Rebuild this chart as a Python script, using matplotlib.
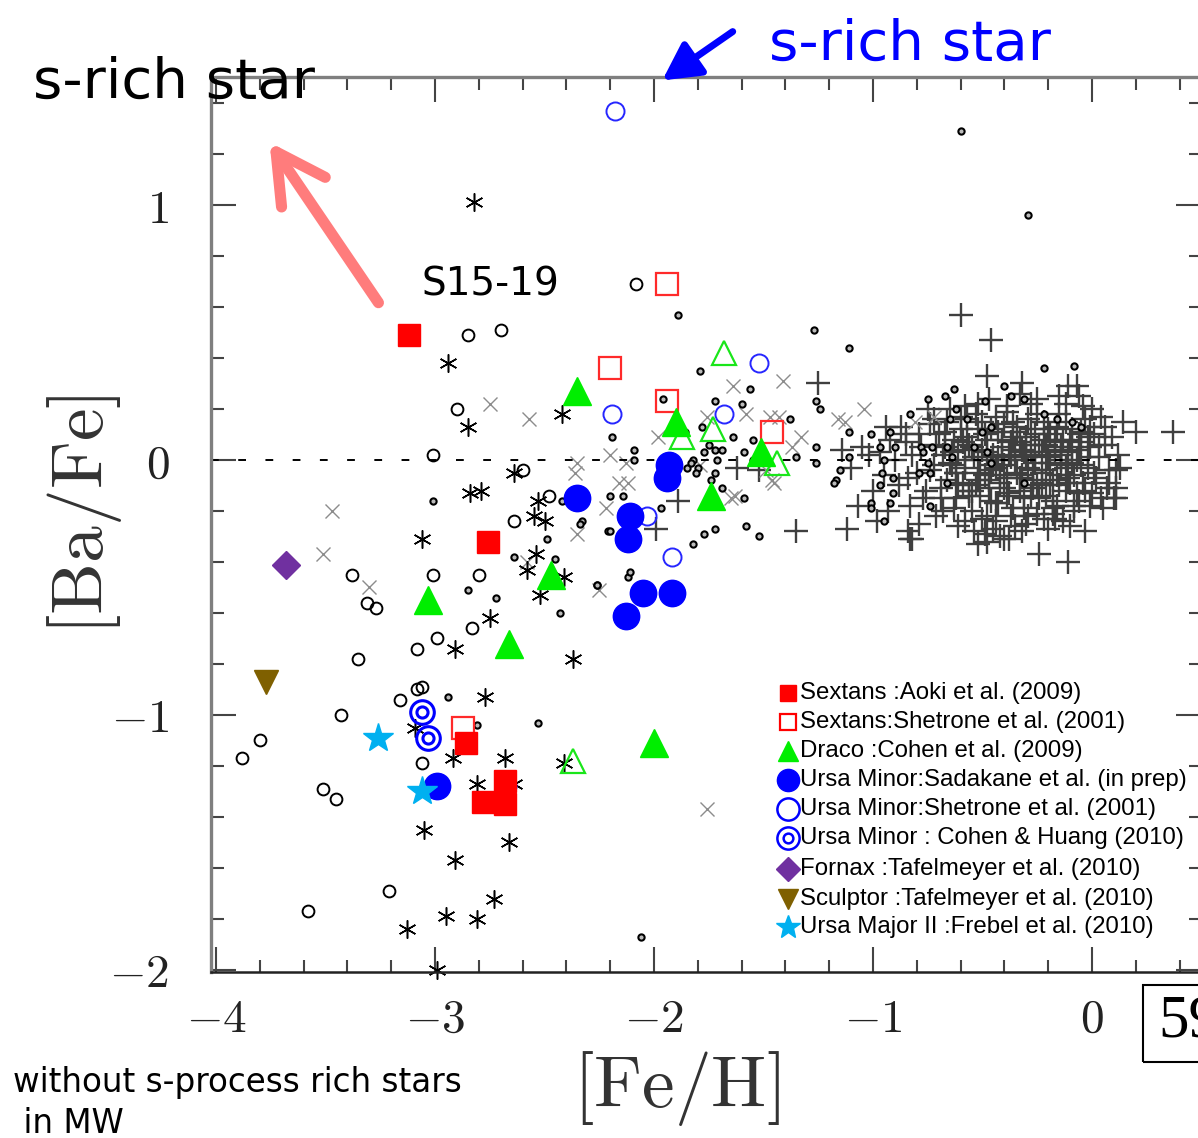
import matplotlib
matplotlib.use("Agg")
import matplotlib.pyplot as plt
from matplotlib.lines import Line2D
from matplotlib.patches import FancyArrowPatch, Rectangle
from matplotlib.ticker import MultipleLocator, FixedLocator, FixedFormatter

plt.rcParams['mathtext.fontset'] = 'cm'

# -------------------------- dSph stars -------------------------- #
sex_aoki_feh = [-3.12, -2.76, -2.86, -2.78, -2.68, -2.68]
sex_aoki_bafe = [0.49, -0.32, -1.11, -1.34, -1.26, -1.35]

sex_shet_feh = [-1.94, -2.20, -1.94, -1.46, -2.87]
sex_shet_bafe = [0.69, 0.36, 0.23, 0.11, -1.05]

dra_feh = [-2.35, -1.90, -1.74, -1.51, -2.47, -3.03, -2.66, -2.00]
dra_bafe = [0.27, 0.15, -0.14, 0.03, -0.45, -0.55, -0.72, -1.11]

dra_open_feh = [-1.68, -1.87, -1.73, -1.44, -2.37]
dra_open_bafe = [0.42, 0.09, 0.12, -0.01, -1.18]

umi_sad_feh = [-2.35, -2.11, -2.12, -1.93, -1.94, -2.05, -1.92, -2.13, -2.99]
umi_sad_bafe = [-0.15, -0.22, -0.31, -0.02, -0.07, -0.52, -0.52, -0.61, -1.28]

umi_shet_feh = [-2.18, -1.52, -2.19, -1.68, -2.03, -1.92, -2.67]
umi_shet_bafe = [1.37, 0.38, 0.18, 0.18, -0.22, -0.38, -1.28]

umi_cohen_feh = [-3.06, -3.03]
umi_cohen_bafe = [-0.99, -1.09]

fnx_feh = [-3.68]
fnx_bafe = [-0.41]

scl_feh = [-3.77]
scl_bafe = [-0.87]

uma_feh = [-3.26, -3.06]
uma_bafe = [-1.09, -1.30]

legend_labels = [
    "Sextans :Aoki et al. (2009)",
    "Sextans:Shetrone et al. (2001)",
    "Draco :Cohen et al. (2009)",
    "Ursa Minor:Sadakane et al. (in prep)",
    "Ursa Minor:Shetrone et al. (2001)",
    "Ursa Minor : Cohen & Huang (2010)",
    "Fornax :Tafelmeyer et al. (2010)",
    "Sculptor :Tafelmeyer et al. (2010)",
    "Ursa Major II :Frebel et al. (2010)",
]

# -------------------------- Milky Way halo / disk -------------------------- #
mw_circ_feh = [-2.85, -2.70, -2.08, -2.90, -3.01, -2.60, -2.48, -2.64, -3.38, -3.01,
               -2.80, -3.31, -3.27, -2.83, -2.99, -3.08, -3.35, -3.08, -3.06, -3.16,
               -3.43, -3.80, -3.88, -3.06, -3.51, -3.45, -3.21, -3.58]
mw_circ_bafe = [0.49, 0.51, 0.69, 0.20, 0.02, -0.04, -0.14, -0.24, -0.45, -0.45,
                -0.45, -0.56, -0.58, -0.66, -0.70, -0.74, -0.78, -0.90, -0.89, -0.94,
                -1.00, -1.10, -1.17, -1.19, -1.29, -1.33, -1.69, -1.77]

mw_dot_feh = [-3.01, -2.42, -2.64, -2.85, -2.72, -2.49, -2.45, -2.43, -2.33, -2.26,
              -2.94, -2.81, -2.53, -2.20, -2.14, -2.21, -2.26, -2.12, -2.34, -2.09,
              -2.09, -2.19, -1.56, -1.60, -1.72, -1.96, -1.86, -1.78, -1.75, -1.72,
              -1.64, -1.69, -1.77, -1.55, -1.82, -1.85, -1.80, -1.81, -1.71, -1.72,
              -1.74, -1.69, -1.59, -1.59, -1.55, -1.51, -1.38, -1.97, -2.20, -1.72,
              -1.77, -1.82, -1.58, -1.52, -2.11, -1.89, -1.27, -1.11, -1.79, -1.26,
              -1.24, -1.11, -0.92, -0.75, -0.67, -0.63, -0.40, -0.37, -0.22, -0.08,
              -0.49, -0.62, -0.57, -0.65, -0.83, -0.46, -0.50, -0.31, -0.22, -0.16,
              -0.09, -0.05, -1.26, -1.26, -1.15, -1.17, -1.11, -1.01, -0.97, -0.95,
              -0.90, -0.78, -0.73, -0.77, -0.75, -0.66, -0.64, -0.54, -0.48, -0.46,
              -0.96, -0.91, -0.79, -0.97, -0.91, -0.74, -0.66, -0.31, -1.01, -0.92,
              -0.74, -1.01, -0.95, -1.18, -1.35, -1.83, -0.60, -0.29, -2.06]
mw_dot_bafe = [-0.16, -0.16, -0.38, -0.51, -0.54, -0.31, -0.39, -0.60, -0.24, -0.49,
               -0.93, -1.04, -1.03, -0.14, -0.14, -0.28, -0.49, -0.46, -0.25, 0.04,
               0.00, 0.09, 0.28, 0.22, 0.23, 0.24, 0.11, 0.13, 0.06, 0.04,
               0.09, 0.04, 0.03, 0.08, 0.00, -0.03, -0.03, -0.05, 0.00, -0.05,
               -0.08, -0.11, -0.15, 0.03, 0.00, 0.00, 0.16, -0.19, -0.28, -0.27,
               -0.29, -0.33, -0.26, -0.30, -0.44, 0.57, 0.51, 0.44, 0.35, 0.23,
               0.20, 0.11, 0.11, 0.24, 0.25, 0.28, 0.29, 0.25, 0.36, 0.37,
               0.23, 0.20, 0.16, 0.16, 0.18, 0.13, 0.11, 0.24, 0.18, 0.16,
               0.15, 0.13, 0.05, -0.01, -0.04, -0.08, 0.01, 0.10, 0.05, 0.00,
               0.05, 0.05, 0.05, 0.03, -0.01, 0.05, 0.01, 0.05, 0.03, -0.01,
               -0.05, -0.07, -0.05, -0.10, -0.13, -0.05, -0.09, -0.09, -0.17, -0.17,
               -0.18, -0.19, -0.24, -0.09, 0.01, -0.01, 1.29, 0.96, -1.87]

mw_ast_feh = [-2.82, -2.94, -2.85, -2.42, -2.64, -2.84, -2.79, -2.53, -2.55, -2.50,
              -3.06, -2.54, -2.58, -2.41, -2.52, -2.75, -2.91, -2.37, -2.77, -3.09,
              -2.92, -2.68, -2.41, -2.81, -2.64, -3.05, -2.66, -2.91, -2.73, -2.95,
              -2.81, -3.13, -2.99]
mw_ast_bafe = [1.01, 0.38, 0.13, 0.18, -0.05, -0.13, -0.12, -0.16, -0.22, -0.24,
               -0.31, -0.37, -0.43, -0.46, -0.53, -0.62, -0.74, -0.78, -0.93, -1.05,
               -1.17, -1.17, -1.19, -1.27, -1.27, -1.45, -1.50, -1.57, -1.72, -1.79,
               -1.80, -1.84, -2.00]

mw_x_feh = [-2.75, -2.57, -3.47, -3.51, -3.30, -2.36, -2.35, -2.58, -2.20, -2.13,
            -2.16, -2.12, -2.22, -2.25, -1.64, -1.41, -1.58, -1.76, -1.98, -1.79,
            -1.65, -1.63, -1.47, -1.43, -1.46, -1.45, -1.49, -1.04, -1.16, -1.13,
            -0.72, -0.81, -1.33, -1.37, -1.76, -2.35]
mw_x_bafe = [0.22, 0.16, -0.20, -0.37, -0.50, -0.05, -0.29, -0.40, 0.02, -0.01,
             -0.09, -0.09, -0.19, -0.51, 0.29, 0.31, 0.18, 0.17, 0.09, -0.02,
             -0.15, -0.14, 0.17, 0.17, -0.08, -0.09, -0.04, 0.20, 0.16, 0.15,
             0.17, 0.15, 0.09, 0.05, -1.37, -0.01]

mw_plus_feh = [-0.60, -0.46, -0.48, -0.32, -0.11, -0.07, 0.14, 0.20, 0.37, -1.25,
               -1.89, -1.35, -1.12, -0.11, -0.83, -0.38, -0.52, 0.11, 0.11, 0.11,
               -1.62, -1.99, -1.52, -0.94, -0.85, -1.14, -1.02, -1.07, -0.98, -0.84,
               -0.82, -0.48, -0.40, -0.49, -0.29, -0.18, -0.01, 0.13, -0.03, -0.24,
               -0.78, -0.72, -0.70, -0.66, -0.64, -0.62, -0.60, -0.58, -0.56, -0.55,
               -0.53, -0.52, -0.50, -0.49, -0.48, -0.46, -0.45, -0.44, -0.43, -0.42,
               -0.41, -0.40, -0.39, -0.38, -0.37, -0.36, -0.35, -0.34, -0.33, -0.32,
               -0.31, -0.30, -0.29, -0.28, -0.27, -0.26, -0.25, -0.24, -0.23, -0.22,
               -0.21, -0.20, -0.19, -0.18, -0.17, -0.16, -0.15, -0.14, -0.13, -0.12,
               -0.11, -0.10, -0.09, -0.08, -0.07, -0.06, -0.05, -0.04, -0.03, -0.02,
               -0.01, 0.00, 0.01, 0.02, 0.03, 0.05, 0.06, 0.08,
               -0.90, -0.88, -0.85, -0.83, -0.80, -0.76, -0.74, -0.71, -0.68, -0.65,
               -0.61, -0.57, -0.54, -0.47, -0.42, -0.33, -0.30, -0.20, -0.12, -0.06,
               0.04, 0.09, -0.95, -0.92, -1.00, -0.97, -0.87, -0.79, -0.69, -0.63,
               -0.51, -0.39, -0.28, -0.17, -0.09, -0.02, 0.07, -0.44, -0.25, -0.58,
               -0.75, -1.05, -1.10, -0.93, -0.35, -0.15, 0.00, 0.10, 0.12, -0.48,
               -0.66, -0.56, -0.37, -0.27, -0.14, -0.45, -0.31, -0.19, -0.62, -0.05,
               -0.74, -0.71, -0.69, -0.67, -0.65, -0.63, -0.61, -0.59, -0.57, -0.56,
               -0.54, -0.53, -0.51, -0.50, -0.48, -0.47, -0.46, -0.44, -0.43, -0.41,
               -0.40, -0.38, -0.37, -0.36, -0.34, -0.33, -0.31, -0.30, -0.29, -0.27,
               -0.26, -0.24, -0.23, -0.21, -0.20, -0.18, -0.17, -0.15, -0.14, -0.12,
               -0.11, -0.09, -0.08, -0.06, -0.05, -0.03, -0.01, 0.01, 0.03, 0.04,
               -0.72, -0.68, -0.60, -0.58, -0.52, -0.45, -0.39, -0.32, -0.25, -0.22,
               -0.13, -0.04, 0.06, 0.08, -0.82, -0.79, -0.77, -0.84, -0.62, -0.55,
               -0.49, -0.42, -0.35, -0.28, -0.19, -0.10, -0.07, -0.16, -0.33, -0.46,
               -0.58, -0.67, -0.41, -0.23, -0.30, -0.52, -0.12, -0.02,
               -0.64, -0.59, -0.55, -0.50, -0.47, -0.43, -0.39, -0.36, -0.32, -0.28,
               -0.25, -0.21, -0.18, -0.14, -0.10, -0.06, -0.52, -0.44, -0.34, -0.26,
               -0.16, -0.61, -0.40, -0.22, -0.08]
mw_plus_bafe = [0.57, 0.47, 0.33, 0.30, 0.29, 0.29, 0.15, 0.11, 0.11, 0.30,
                -0.16, -0.28, -0.27, -0.40, -0.31, -0.31, -0.33, -0.04, -0.11, -0.15,
                -0.03, -0.27, -0.04, 0.13, 0.10, 0.04, 0.02, -0.18, -0.24, -0.28,
                -0.31, -0.32, -0.31, -0.29, -0.22, -0.21, -0.18, -0.03, -0.28, -0.37,
                0.05, -0.02, 0.10, -0.08, 0.03, -0.15, 0.12, -0.03, 0.06, -0.20,
                -0.10, 0.00, 0.15, -0.06, 0.08, -0.16, 0.02, -0.24, 0.11, -0.09,
                0.05, -0.02, 0.19, -0.13, 0.07, -0.19, 0.00, 0.13, -0.07, 0.04,
                -0.15, 0.09, -0.03, 0.22, -0.11, 0.02, -0.21, 0.06, -0.05, 0.15,
                -0.14, 0.01, 0.10, -0.08, 0.04, -0.18, 0.18, -0.02, 0.08, -0.12,
                0.03, -0.26, 0.12, -0.06, 0.00, -0.16, 0.07, -0.09, 0.16, -0.03,
                0.05, -0.13, 0.10, -0.07, 0.01, -0.19, 0.06, -0.04,
                0.00, -0.10, 0.07, -0.18, -0.05, -0.12, 0.14, -0.22, 0.02, 0.20,
                -0.26, 0.16, -0.28, 0.24, -0.30, 0.26, -0.25, -0.27, 0.22, 0.25,
                0.17, 0.09, -0.06, 0.08, -0.12, 0.03, 0.13, -0.25, -0.15, 0.08,
                -0.14, -0.07, 0.12, -0.23, -0.01, 0.09, -0.11, 0.17, 0.18, 0.21,
                0.20, 0.05, -0.03, -0.20, -0.26, 0.25, 0.20, -0.15, 0.02, -0.22,
                0.15, -0.12, 0.01, -0.04, 0.05, -0.02, 0.03, -0.10, -0.05, 0.11,
                -0.04, 0.06, -0.11, 0.11, -0.01, -0.19, 0.04, -0.09, 0.09, -0.14,
                0.01, 0.18, -0.05, -0.23, 0.03, -0.11, 0.12, -0.03, -0.17, 0.08,
                -0.11, 0.02, -0.22, 0.15, -0.05, 0.07, -0.19, 0.01, 0.16, -0.08,
                0.10, -0.15, 0.03, -0.04, 0.12, -0.19, 0.07, -0.10, 0.02, 0.15,
                -0.07, 0.05, -0.20, 0.10, -0.02, -0.12, 0.13, -0.05, 0.06, -0.15,
                0.16, -0.20, 0.17, -0.24, 0.22, -0.27, 0.21, -0.28, 0.24, -0.23,
                -0.24, 0.21, 0.13, -0.09, 0.02, 0.10, -0.15, -0.07, -0.05, 0.05,
                0.10, -0.06, 0.04, -0.14, -0.01, 0.08, -0.13, 0.13, -0.12, -0.04,
                0.00, 0.05, 0.00, -0.09, 0.06, -0.08, -0.03, 0.01,
                -0.02, 0.07, -0.12, 0.04, -0.08, 0.01, -0.14, 0.09, -0.06, 0.03,
                -0.10, 0.06, -0.16, 0.00, -0.09, 0.04, 0.12, -0.17, 0.11, -0.01,
                -0.06, -0.10, 0.14, 0.08, -0.18]

xtick_vals = [-4, -3, -2, -1, 0]
xtick_text = ['$-4$', '$-3$', '$-2$', '$-1$', '$0$']
ytick_vals = [-2, -1, 0, 1]
ytick_text = ['$-2$', '$-1$', '$0$', '$1$']

W, H = 1198, 1138


def fx(px):
    return px / W


def fy(py):
    return 1 - py / H


fig = plt.figure(figsize=(W / 100, H / 100), dpi=100)
ax = fig.add_axes([fx(211), fy(972), 990 / W, 895 / H])
ax.set_xlim(-4.023, 0.498)
ax.set_ylim(-2.008, 1.502)

# background MW samples
ax.plot(mw_plus_feh, mw_plus_bafe, ls='none', marker='+', ms=17, mew=1.7, color='#3f3f3f')
ax.plot(mw_x_feh, mw_x_bafe, ls='none', marker='x', ms=10, mew=1.0, color='#8c8c8c')
ax.plot(mw_circ_feh, mw_circ_bafe, ls='none', marker='o', ms=8.5, mew=1.4,
        mfc='none', mec='black')
ax.plot(mw_dot_feh, mw_dot_bafe, ls='none', marker='o', ms=4.5, mew=1.5,
        mfc='#bbbbbb', mec='black')
ax.plot(mw_ast_feh, mw_ast_bafe, ls='none', marker=(6, 2, 0), ms=13, mew=1.1,
        color='black', clip_on=False)

ax.axhline(0, color='black', lw=1.4, ls=(0, (4, 10)))

# dSph samples
ax.plot(sex_shet_feh, sex_shet_bafe, ls='none', marker='s', ms=16, mew=1.6,
        mfc='none', mec='#ff2a2a')
ax.plot(dra_open_feh, dra_open_bafe, ls='none', marker='^', ms=17, mew=1.6,
        mfc='none', mec='#19e619')
ax.plot(umi_shet_feh, umi_shet_bafe, ls='none', marker='o', ms=13, mew=1.4,
        mfc='none', mec='#2626ff')
ax.plot(dra_feh, dra_bafe, ls='none', marker='^', ms=20, color='#00ee00')
ax.plot(umi_sad_feh, umi_sad_bafe, ls='none', marker='o', ms=19, color='#0000ff')
ax.plot(sex_aoki_feh, sex_aoki_bafe, ls='none', marker='s', ms=15.5, color='#ff0000')
ax.plot(umi_cohen_feh, umi_cohen_bafe, ls='none', marker='o', ms=17, mew=2.2,
        mfc='none', mec='#0000ff')
ax.plot(umi_cohen_feh, umi_cohen_bafe, ls='none', marker='o', ms=8, mew=2.2,
        mfc='none', mec='#0000ff')
ax.plot(fnx_feh, fnx_bafe, ls='none', marker='D', ms=14, color='#7030a0')
ax.plot(scl_feh, scl_bafe, ls='none', marker='v', ms=17, color='#7f6000')
ax.plot(uma_feh, uma_bafe, ls='none', marker='*', ms=22, color='#00b0f0')

# frame and ticks
for side in ['left', 'top']:
    ax.spines[side].set_color('#7f7f7f')
    ax.spines[side].set_linewidth(2.4)
ax.spines['bottom'].set_color('#222222')
ax.spines['bottom'].set_linewidth(1.8)
ax.spines['right'].set_color('#555555')

ax.xaxis.set_major_locator(FixedLocator(xtick_vals))
ax.xaxis.set_major_formatter(FixedFormatter(xtick_text))
ax.yaxis.set_major_locator(FixedLocator(ytick_vals))
ax.yaxis.set_major_formatter(FixedFormatter(ytick_text))
ax.xaxis.set_minor_locator(MultipleLocator(0.2))
ax.yaxis.set_minor_locator(MultipleLocator(0.2))
ax.tick_params(which='both', direction='in', top=True, right=True,
               color='#444444', width=1.5)
ax.tick_params(which='major', length=18, labelsize=34, labelcolor='#222222')
ax.tick_params(which='minor', length=9)
ax.tick_params(axis='x', which='major', pad=18)
ax.tick_params(axis='y', which='major', pad=30)

fig.text(fx(676), fy(1088), r'$[\mathrm{Fe}/\mathrm{H}]$', fontsize=53,
         ha='center', va='center', color='#333333')
fig.text(fx(84), fy(515), r'$[\mathrm{Ba}/\mathrm{Fe}]$', fontsize=53,
         ha='center', va='center', rotation=90, color='#333333')

# legend, drawn row by row
leg_rows = [693, 722, 751, 780, 809, 838, 869, 899, 927]
leg_styles = [
    dict(marker='s', ms=12, color='#ff0000'),
    dict(marker='s', ms=12, mfc='none', mec='#ff0000', mew=1.6),
    dict(marker='^', ms=14, color='#00ee00'),
    dict(marker='o', ms=16, color='#0000ff'),
    dict(marker='o', ms=16, mfc='none', mec='#0000ff', mew=1.8),
    dict(marker='o', ms=16, mfc='none', mec='#0000ff', mew=1.8),
    dict(marker='D', ms=12, color='#7030a0'),
    dict(marker='v', ms=15, color='#7f6000'),
    dict(marker='*', ms=18, color='#00b0f0'),
]
for row, label, style in zip(leg_rows, legend_labels, leg_styles):
    fig.add_artist(Line2D([fx(788)], [fy(row)], transform=fig.transFigure, ls='none', **style))
    fig.text(fx(800), fy(row), label, fontsize=17.3, family='Liberation Sans',
             ha='left', va='center', color='black')
fig.add_artist(Line2D([fx(788)], [fy(leg_rows[5])], transform=fig.transFigure, ls='none',
                      marker='o', ms=7, mfc='none', mec='#0000ff', mew=1.8))

# annotations
fig.text(fx(33), fy(98), 's-rich star', fontsize=40.5, family='DejaVu Sans',
         ha='left', va='baseline', color='black')
fig.text(fx(769), fy(60), 's-rich star', fontsize=40.5, family='DejaVu Sans',
         ha='left', va='baseline', color='#0000ff')
fig.text(fx(421), fy(295), 'S15-19', fontsize=28, family='DejaVu Sans',
         ha='left', va='baseline', color='black')
fig.text(fx(13), fy(1092), 'without s-process rich stars', fontsize=23.5,
         family='DejaVu Sans', ha='left', va='baseline', color='black')
fig.text(fx(13), fy(1133), ' in MW', fontsize=23.5,
         family='DejaVu Sans', ha='left', va='baseline', color='black')

fig.add_artist(FancyArrowPatch((fx(380), fy(305)), (fx(268), fy(140)),
                               transform=fig.transFigure,
                               arrowstyle='->,head_length=0.7,head_width=0.38',
                               mutation_scale=50, lw=8, color='#ff7c7c',
                               capstyle='round', joinstyle='round'))
fig.add_artist(FancyArrowPatch((fx(735), fy(30)), (fx(660), fy(82)),
                               transform=fig.transFigure,
                               arrowstyle='-|>,head_length=0.75,head_width=0.4',
                               mutation_scale=30, lw=5, color='#0000ff'))

# page number box at the lower right edge (runs past the figure like the slide)
fig.add_artist(Rectangle((fx(1143), fy(1062)), 80 / W, 77 / H, transform=fig.transFigure,
                         fill=False, ec='black', lw=1.5))
fig.text(fx(1158), fy(1022), '59', fontsize=44, family='Liberation Serif',
         ha='left', va='center', color='black')

fig.savefig('out.png', dpi=100)
